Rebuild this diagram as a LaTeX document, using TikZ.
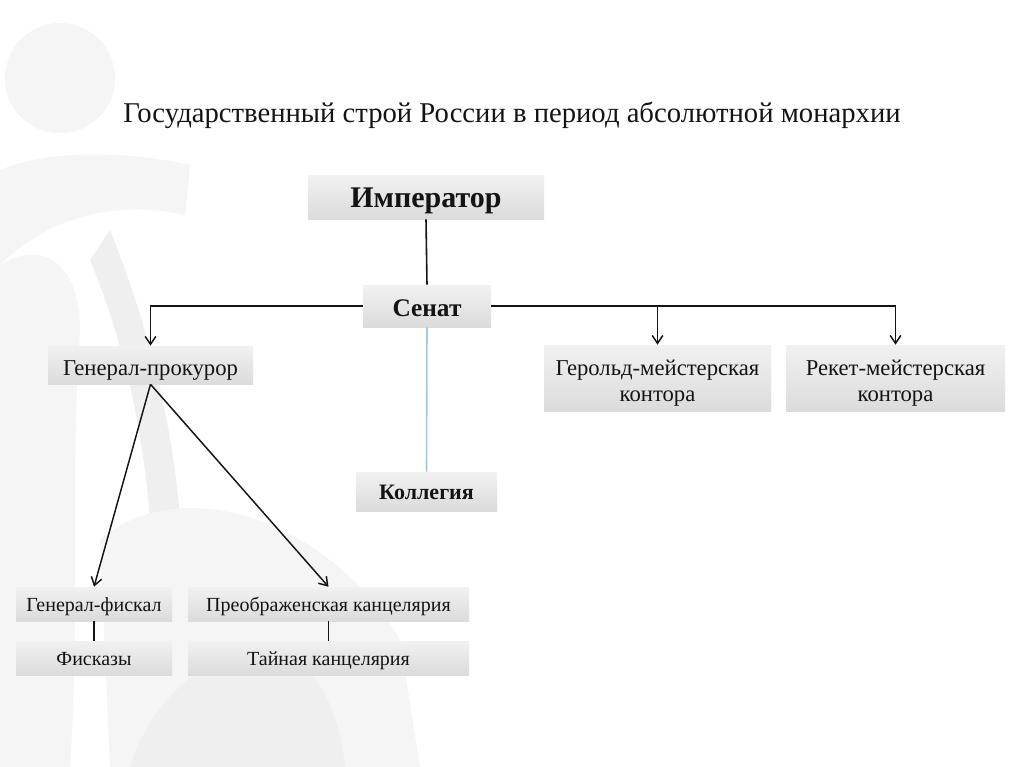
\documentclass[tikz,border=0pt]{standalone}
\usepackage{fontspec}
\setmainfont{Liberation Serif}
\usetikzlibrary{arrows.meta}

\definecolor{wmark}{RGB}{245,245,245}
\definecolor{wmarkd}{RGB}{239,239,239}
\definecolor{inkc}{RGB}{20,20,20}
\tikzset{
  boxnode/.style={top color=gray!11, bottom color=gray!28, text=inkc, inner sep=0pt, align=center,
    text depth=3pt},
  arr/.style={-{Straight Barb[length=6pt,width=8pt]}, line width=1.1pt, draw=inkc},
  link/.style={line width=1.2pt, draw=inkc}
}

\begin{document}
\begin{tikzpicture}[x=0.75pt,y=0.75pt,yscale=-1,xscale=1]
\useasboundingbox (0,0) rectangle (1024,767);
\fill[white] (0,0) rectangle (1024,767);

% faint watermark in the background
\begin{scope}
\clip (0,0) rectangle (1024,767);
\fill[wmark] (60,78) circle (55);
\fill[wmark] (0,170) .. controls (50,150) and (120,150) .. (190,165) -- (185,215) .. controls (120,200) and (50,215) .. (0,265) -- cycle;
\fill[wmark] (0,265) .. controls (40,240) and (80,260) .. (80,330) .. controls (70,480) and (80,620) .. (70,767) -- (0,767) -- cycle;
\fill[wmarkd] (110,230) .. controls (170,380) and (190,520) .. (180,640) -- (150,660) .. controls (160,520) and (140,380) .. (90,260) -- cycle;
\fill[wmark] (100,540) .. controls (180,470) and (330,520) .. (400,640) -- (420,767) -- (110,767) -- cycle;
\fill[wmarkd] (130,767) .. controls (150,700) and (210,650) .. (260,650) .. controls (320,650) and (340,720) .. (345,767) -- cycle;
\end{scope}

% title
\node[text=inkc, font=\fontsize{21.5}{26}\selectfont] (title) at (512,115) {Государственный строй России в период абсолютной монархии};

% boxes
\node[boxnode, minimum width=177pt, minimum height=33pt, text height=18.4pt, font=\fontsize{22.5}{27}\selectfont\bfseries] (imp) at (426,197) {Император};
\node[boxnode, minimum width=96pt, minimum height=31.5pt, text height=19pt, font=\fontsize{19}{23}\selectfont\bfseries] (senat) at (427,306) {Сенат};
\node[boxnode, minimum width=153.75pt, minimum height=28.5pt, text height=18pt, font=\fontsize{17}{20}\selectfont] (prok) at (150.5,365) {Генерал-прокурор};
\node[boxnode, minimum width=170.25pt, minimum height=49.5pt, text height=38.6pt, font=\fontsize{17}{20}\selectfont] (gerold) at (657.5,378) {Герольд-мейстерская\\контора};
\node[boxnode, minimum width=164.25pt, minimum height=49.5pt, text height=38.6pt, font=\fontsize{17}{20}\selectfont] (reket) at (895.5,378) {Рекет-мейстерская\\контора};
\node[boxnode, minimum width=105.75pt, minimum height=29.25pt, text height=14.8pt, font=\fontsize{16.5}{20}\selectfont\bfseries] (koll) at (426.5,491.5) {Коллегия};
\node[boxnode, minimum width=117pt, minimum height=25.5pt, text height=14.6pt, font=\fontsize{15}{18}\selectfont] (fiskal) at (94,604) {Генерал-фискал};
\node[boxnode, minimum width=210.75pt, minimum height=25.5pt, text height=14.6pt, font=\fontsize{15}{18}\selectfont] (preob) at (328.5,604) {Преображенская канцелярия};
\node[boxnode, minimum width=117pt, minimum height=25.5pt, text height=14.6pt, font=\fontsize{15}{18}\selectfont] (fiskaly) at (94,658) {Фисказы};
\node[boxnode, minimum width=210.75pt, minimum height=25.5pt, text height=14.6pt, font=\fontsize{15}{18}\selectfont] (tain) at (328.5,658) {Тайная канцелярия};

% connectors
\draw[link] (imp.south) -- (senat.north);
\draw[arr] (senat.west) -| (prok.north);
\draw[arr] (senat.east) -| (gerold.north);
\draw[arr] (senat.east) -| (reket.north);
\draw[line width=1.2pt, draw={rgb,255:red,160;green,200;blue,225}] (senat.south) -- (koll.north);
\draw[arr] (prok.south) -- (fiskal.north);
\draw[arr] (prok.south) -- (preob.north);
\draw[link] (fiskal.south) -- (fiskaly.north);
\draw[link] (preob.south) -- (tain.north);

\end{tikzpicture}
\end{document}
